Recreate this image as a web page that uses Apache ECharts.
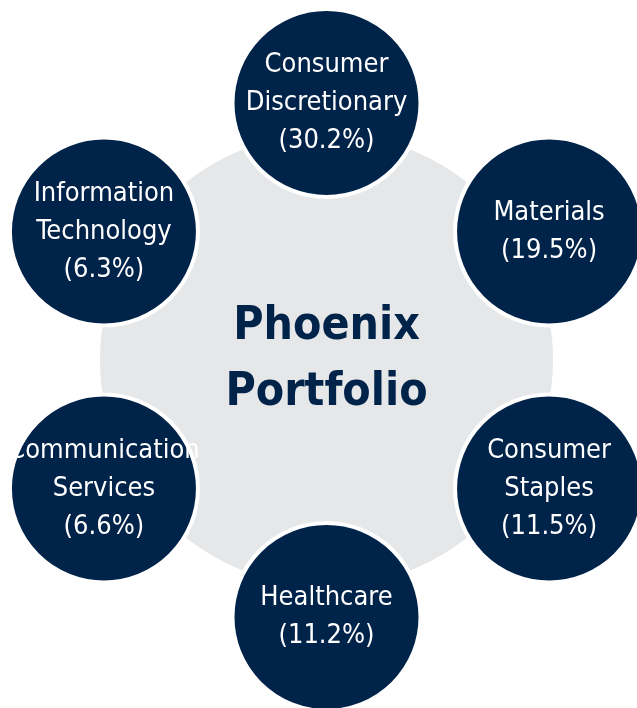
<!DOCTYPE html>
<html>
<head>
    <meta charset="utf-8">
    <title>Phoenix Portfolio</title>
    <script src="https://cdn.jsdelivr.net/npm/echarts@6/dist/echarts.min.js"></script>
    <style>
        body { margin: 0; background: #fff; }
    </style>
</head>
<body>
    <div id="main" style="width: 637px;height:708px;"></div>
    <script type="text/javascript">
        var myChart = echarts.init(document.getElementById('main'));

        // sectors, clockwise from the top
        var sectors = ['Consumer Discretionary', 'Materials', 'Consumer Staples', 'Healthcare', 'Communication Services', 'Information Technology'];
        var shares = [30.2, 19.5, 11.5, 11.2, 6.6, 6.3];
        var centerTitle = 'Phoenix\nPortfolio';

        var navy = '#00234a';
        var font = '"Liberation Sans Narrow", "DejaVu Sans Condensed", sans-serif';

        option = {
            backgroundColor: '#fff',
            polar: {
                center: [326.5, 360],
                radius: 257
            },
            angleAxis: {
                type: 'category',
                data: sectors,
                startAngle: 120,
                axisLine: { show: false },
                axisTick: { show: false },
                axisLabel: { show: false },
                splitLine: { show: false }
            },
            radiusAxis: {
                min: 0,
                max: 1,
                axisLine: { show: false },
                axisTick: { show: false },
                axisLabel: { show: false },
                splitLine: { show: false }
            },
            series: [{
                // big grey disc in the middle
                type: 'scatter',
                coordinateSystem: 'polar',
                silent: true,
                clip: false,
                z: 1,
                symbol: 'circle',
                symbolSize: 453,
                itemStyle: { color: '#e6e7e9', opacity: 1 },
                label: {
                    show: true,
                    position: 'inside',
                    formatter: centerTitle,
                    color: navy,
                    fontFamily: font,
                    fontWeight: 'bold',
                    fontSize: 46,
                    lineHeight: 66
                },
                data: [[0, sectors[0]]]
            }, {
                type: 'scatter',
                coordinateSystem: 'polar',
                silent: true,
                clip: false,
                z: 2,
                symbol: 'circle',
                symbolSize: 188,
                itemStyle: {
                    color: navy,
                    opacity: 1,
                    borderColor: '#fff',
                    borderWidth: 4
                },
                label: {
                    show: true,
                    position: 'inside',
                    color: '#fff',
                    fontFamily: font,
                    fontSize: 27,
                    lineHeight: 38,
                    formatter: function(params) {
                        return params.name.replace(' ', '\n') + '\n(' + params.data.share + '%)';
                    }
                },
                data: sectors.map(function(s, i) {
                    return { name: s, value: [1, s], share: shares[i].toFixed(1) };
                })
            }]
        };

        myChart.setOption(option);
    </script>
</body>
</html>
